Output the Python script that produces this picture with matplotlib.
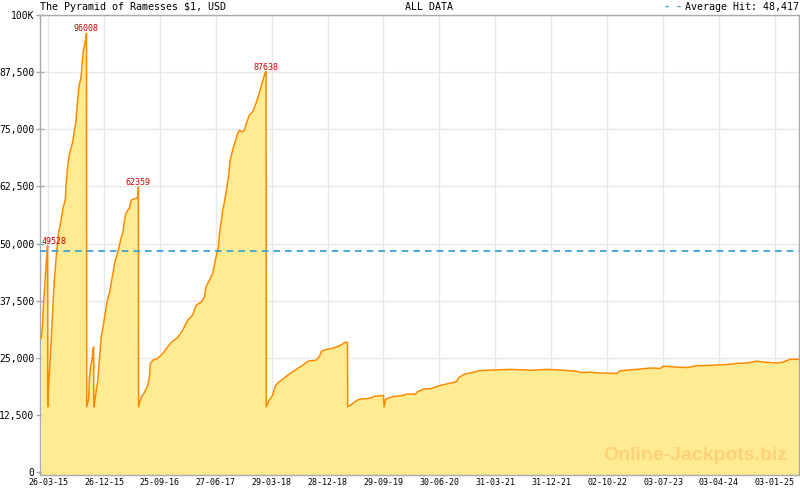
import numpy as np
import pandas as pd
import matplotlib
matplotlib.use("Agg")
import matplotlib.pyplot as plt
import matplotlib.dates as mdates

# jackpot amount
# days counted from 26-03-15
start = "2015-03-26"
days = [-33, -26, -22, -15, -7, -2, -1,
        1, 8, 16, 23, 31, 42, 52, 64, 75, 85, 88, 96, 104, 113, 121, 129, 137,
        145, 153, 162, 167, 173, 179, 186, 189, 190,
        199, 204, 209, 216, 221, 224, 225,
        232, 237, 245, 250, 255, 261, 270, 278, 286, 294, 302, 310, 319, 327,
        335, 343, 351, 359, 368, 376, 384, 392, 400, 409, 417, 433, 441, 444, 445,
        458, 474, 490, 498, 503, 515, 539, 564, 588, 605, 638, 662, 687, 711,
        727, 752, 768, 776, 793, 809, 825, 837, 843, 850, 858, 866, 879, 886,
        895, 907, 919, 932, 940, 956, 964, 977, 989, 1005, 1022, 1038, 1049,
        1059, 1066, 1071, 1072,
        1087, 1103, 1115, 1128, 1152, 1177, 1201, 1226, 1251, 1278, 1316, 1332,
        1344, 1373, 1406, 1438, 1459, 1471, 1472,
        1487, 1520, 1536, 1585, 1602, 1648, 1651,
        1659, 1692, 1741, 1765, 1806, 1814, 1847, 1880, 1929, 1978, 2007, 2018,
        2043, 2092, 2117, 2158, 2272, 2386, 2452, 2533, 2599, 2615, 2664, 2713,
        2795, 2811, 2893, 2958, 3007, 3023, 3089, 3138, 3188, 3261, 3343, 3384,
        3433, 3482, 3514, 3580, 3612, 3645, 3689]
hits = [29300, 32600, 37000, 41300, 46800, 49528, 14300,
        17300, 22300, 28900, 35400, 42000, 47900, 52300, 55100, 58000, 59500,
        62400, 66500, 69400, 70900, 72200, 74400, 76600,
        81000, 84700, 86200, 89000, 91900, 93400, 95000, 96008, 14300,
        15800, 20800, 23000, 24500, 26700, 27400, 14300,
        16200, 17900, 20100, 23000, 26000, 29500, 31700, 33900, 36100, 38100,
        39200, 41300, 43500, 45700,
        47000, 48100, 49700, 51200, 52500, 55100, 56700, 57300, 57800, 59500,
        59700, 59900, 60200, 62359, 14300,
        16400, 17500, 19000, 20800, 23800, 24500, 24900, 26000, 27400, 28400,
        29500, 31100, 33300, 34400,
        36500, 37200, 38300, 40500, 42000, 43500, 47000, 49200, 52300, 54500,
        57300, 58900, 62400, 64500,
        68300, 70500, 72200, 74200, 74800, 74400, 74800, 76600, 78100, 78800,
        80700, 82900, 84700,
        86200, 87300, 87638, 14300,
        15800, 16800, 18700, 19500, 20300, 21200, 21900, 22700, 23400, 24300,
        24500, 25200,
        26500, 26900, 27200, 27800, 28400, 28400, 14300,
        14700, 15800, 16000, 16200, 16600, 16800, 14300,
        16000, 16500, 16800, 17100, 17100, 17600, 18200, 18300, 19000, 19500,
        19800, 20700,
        21400, 21900, 22200, 22300, 22500, 22300, 22500, 22300, 22100, 21800,
        21900, 21700,
        21600, 22200, 22500, 22800, 22700, 23200, 23000, 22900, 23300, 23400,
        23600, 23800,
        23900, 24300, 24100, 23900, 24100, 24700, 24700]

x_ticks = ["2015-03-26", "2015-12-26", "2016-09-25", "2017-06-27",
           "2018-03-29", "2018-12-28", "2019-09-29", "2020-06-30",
           "2021-03-31", "2021-12-31", "2022-10-02", "2023-07-03",
           "2024-04-03", "2025-01-03"]
y_ticks = [0, 12500, 25000, 37500, 50000, 62500, 75000, 87500, 100000]
y_labels = ["0", "12,500", "25,000", "37,500", "50,000", "62,500",
            "75,000", "87,500", "100K"]
average_hit = 48417

title = "The Pyramid of Ramesses $1, USD"
period = "ALL DATA"

mono = "DejaVu Sans Mono"
fill_color = "#FFEB91"
line_color = "#FF8A00"
avg_color = "#2E9BD6"
grid_color = "#E8E8E8"
spine_color = "#AAAAAA"

dates = pd.Timestamp(start) + pd.to_timedelta(days, unit="D")
hits = np.array(hits)

fig = plt.figure(figsize=(8, 4.9), dpi=100)
ax = fig.add_axes([40 / 800, 15 / 490, 759 / 800, 460 / 490])

ymin = -600
ax.fill_between(dates, hits, ymin, color=fill_color, lw=0, zorder=2)
ax.plot(dates, hits, color=line_color, lw=1.1, zorder=3)
ax.axhline(average_hit, color=avg_color, lw=1.2, ls=(0, (4, 3)), zorder=4)

ax.set_xlim(dates[0], dates[-1])
ax.set_ylim(ymin, 100000)

# axes
major = pd.to_datetime(x_ticks)
ax.set_xticks(major)
ax.xaxis.set_major_formatter(mdates.DateFormatter("%d-%m-%y"))
mnum = mdates.date2num(major)
step = (mnum[1] - mnum[0]) / 7
minor = np.arange(mnum[0] - step, mdates.date2num(dates[-1]), step)
ax.set_xticks(minor, minor=True)
ax.set_yticks(y_ticks)
ax.set_yticklabels(y_labels)

ax.tick_params(axis="x", which="major", direction="in", length=4, width=1,
               color=spine_color, labelsize=6, pad=2)
ax.tick_params(axis="x", which="minor", direction="in", length=2, width=1,
               color=spine_color)
ax.tick_params(axis="y", direction="inout", length=6, width=1,
               color=spine_color, labelsize=7, pad=1)
for lab in ax.get_xticklabels() + ax.get_yticklabels():
    lab.set_fontfamily(mono)

ax.grid(True, which="major", color=grid_color, lw=1, zorder=0)
ax.set_axisbelow(True)
for s in ax.spines.values():
    s.set_color(spine_color)
    s.set_linewidth(1)

# peak labels, at each point just before a reset
for i in range(len(hits) - 1):
    if hits[i] - hits[i + 1] > 20000:
        ha = "center"
        dx = 0
        if i < 10:
            ha = "left"
            dx = -4.5
        ax.annotate(str(hits[i]), (dates[i], hits[i]), xytext=(dx, 0),
                    textcoords="offset points", ha=ha, va="bottom",
                    fontsize=6, family=mono, color="#CC0000", zorder=5)

ax.text(0.985, 0.025, "Online-Jackpots.biz", transform=ax.transAxes,
        ha="right", va="bottom", fontsize=14, fontweight="bold",
        family="Liberation Sans", color="#FFD27A", zorder=6)

# header
fig.text(40 / 800, 1 - 7 / 490, title, ha="left", va="center",
         fontsize=7.2, family=mono, parse_math=False)
fig.text(405 / 800, 1 - 7 / 490, period, ha="left", va="center",
         fontsize=7.2, family=mono)
t = fig.text(799 / 800, 1 - 7 / 490, f"Average Hit: {average_hit:,}",
             ha="right", va="center", fontsize=7.2, family=mono)
fig.canvas.draw()
bb = t.get_window_extent()
fig.text((bb.x0 - 3) / 800, 1 - 7 / 490, "- -", ha="right", va="center",
         fontsize=7.2, family=mono, color=avg_color, fontweight="bold")

fig.savefig("out.png", dpi=100)
